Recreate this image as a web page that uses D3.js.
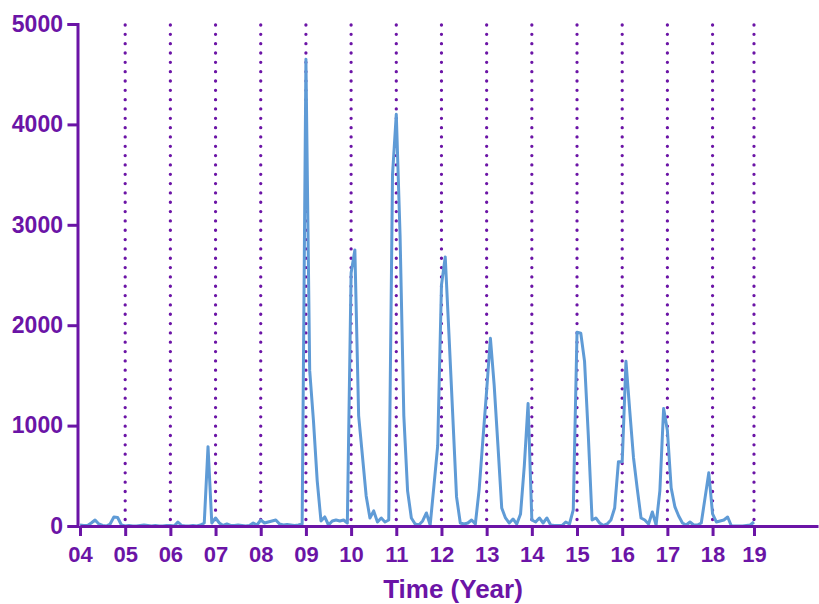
<!DOCTYPE html>
<html>
<head>
<meta charset="utf-8">
<script src="https://cdn.jsdelivr.net/npm/d3@7"></script>
<style>
  body { margin: 0; background: #fff; }
  svg { display: block; font-family: "Liberation Sans", Arial, sans-serif; }
</style>
</head>
<body>
<svg width="819" height="604"></svg>
<script>
// monthly counts, Jan 2004 .. Dec 2018
const counts2004 = [10, 5, 5, 30, 60, 20, 5, 0, 20, 90, 85, 10];
const counts2005 = [0, 5, 0, 0, 5, 10, 5, 0, 5, 0, 0, 5];
const counts2006 = [5, 0, 40, 5, 0, 0, 5, 0, 10, 30, 790, 30];
const counts2007 = [80, 30, 5, 20, 5, 5, 10, 5, 0, 5, 30, 10];
const counts2008 = [60, 30, 40, 50, 60, 20, 10, 15, 10, 5, 10, 20];
const counts2009 = [4650, 1550, 1050, 450, 50, 90, 10, 50, 60, 50, 60, 30];
const counts2010 = [2520, 2750, 1100, 700, 300, 80, 150, 40, 80, 40, 60, 3500];
const counts2011 = [4100, 2900, 1100, 350, 80, 20, 10, 50, 130, 10, 400, 800];
const counts2012 = [2400, 2680, 1900, 1100, 290, 30, 20, 30, 60, 20, 360, 860];
const counts2013 = [1350, 1870, 1400, 800, 180, 80, 30, 70, 20, 120, 600, 1220];
const counts2014 = [60, 40, 80, 30, 80, 10, 5, 5, 5, 40, 20, 160];
const counts2015 = [1930, 1920, 1640, 900, 60, 80, 30, 5, 20, 60, 180, 640];
const counts2016 = [640, 1640, 1150, 680, 370, 80, 60, 20, 140, 10, 350, 1170];
const counts2017 = [950, 380, 190, 100, 30, 10, 40, 10, 10, 30, 280, 530];
const counts2018 = [120, 40, 50, 60, 90, 0, 0, 0, 0, 5, 10, 40];

// tick labels and the month index they sit on (19 sits on the last month)
const tickLabels = ["04", "05", "06", "07", "08", "09", "10", "11", "12", "13", "14", "15", "16", "17", "18", "19"];
const tickMonths = [0, 12, 24, 36, 48, 60, 72, 84, 96, 108, 120, 132, 144, 156, 168, 179];
const yTicks = [0, 1000, 2000, 3000, 4000, 5000];

const series = [].concat(counts2004, counts2005, counts2006, counts2007, counts2008,
  counts2009, counts2010, counts2011, counts2012, counts2013, counts2014,
  counts2015, counts2016, counts2017, counts2018);

const purple = "#6b14a6";
const blue = "#5f9bd6";

const svg = d3.select("svg");

const x = d3.scaleLinear().domain([0, 196]).range([80, 818]);
const y = d3.scaleLinear().domain([0, 5000]).range([526, 24]);

// dotted year lines
svg.append("g")
  .selectAll("line")
  .data(tickMonths.slice(1))
  .enter()
  .append("line")
  .attr("x1", d => x(d))
  .attr("x2", d => x(d))
  .attr("y1", y(5000) + 1)
  .attr("y2", y(0))
  .attr("stroke", purple)
  .attr("stroke-width", 3.3)
  .attr("stroke-linecap", "round")
  .attr("stroke-dasharray", "0,9.33");

// data line
const line = d3.line()
  .x((d, i) => x(i))
  .y(d => y(d));

svg.append("path")
  .datum(series)
  .attr("d", line)
  .attr("fill", "none")
  .attr("stroke", blue)
  .attr("stroke-width", 3)
  .attr("stroke-linejoin", "round");

// x axis
const xAxis = svg.append("g")
  .attr("transform", `translate(0,${y(0)})`)
  .call(d3.axisBottom(x)
    .tickValues(tickMonths)
    .tickFormat((d, i) => tickLabels[i])
    .tickSize(10)
    .tickSizeOuter(0)
    .tickPadding(10.5));

// y axis
const yAxis = svg.append("g")
  .attr("transform", "translate(77.5,0)")
  .call(d3.axisLeft(y)
    .tickValues(yTicks)
    .tickFormat(d3.format("d"))
    .tickSize(10)
    .tickPadding(4.5));

[xAxis, yAxis].forEach(g => {
  g.select(".domain").attr("stroke", purple).attr("stroke-width", 3);
  g.selectAll(".tick line").attr("stroke", purple).attr("stroke-width", 3);
  g.selectAll(".tick text")
    .attr("fill", purple)
    .attr("font-family", "Liberation Sans, Arial, sans-serif")
    .attr("font-weight", "bold")
    .attr("font-size", 22);
});
yAxis.selectAll(".tick text").attr("font-size", 23);

svg.append("text")
  .attr("x", 453)
  .attr("y", 598)
  .attr("text-anchor", "middle")
  .attr("fill", purple)
  .attr("font-weight", "bold")
  .attr("font-size", 26)
  .text("Time (Year)");
</script>
</body>
</html>
